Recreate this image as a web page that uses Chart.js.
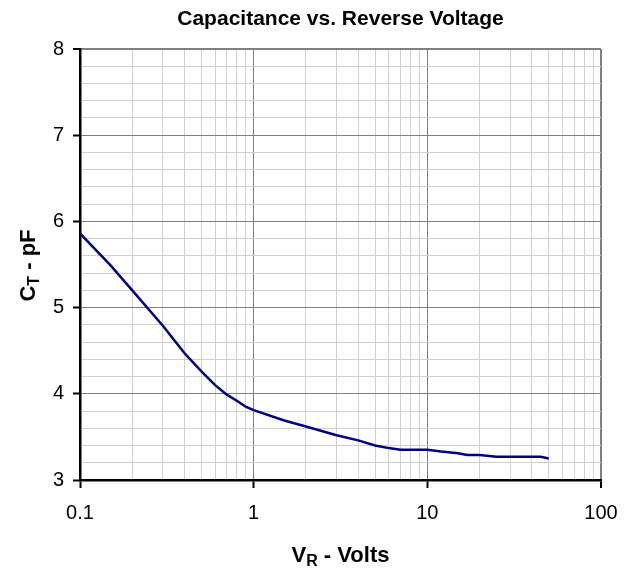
<!DOCTYPE html>
<html>
<head>
<meta charset="utf-8">
<script src="https://cdn.jsdelivr.net/npm/chart.js@4"></script>
<style>
  html, body { margin: 0; padding: 0; background: #fff; }
  #wrap { width: 633px; height: 570px; }
</style>
</head>
<body>
<div id="wrap"><canvas id="capChart"></canvas></div>
<script>
const chartTitle = 'Capacitance vs. Reverse Voltage';

// reverse voltage (V) and total capacitance (pF)
const vr = [0.1, 0.15, 0.2, 0.3, 0.4, 0.5, 0.6, 0.7, 0.8, 0.9, 1, 1.5, 2, 3, 4, 5, 6, 7, 8, 10, 12, 15, 17, 20, 25, 30, 40, 45, 50];
const ct = [5.86, 5.49, 5.20, 4.79, 4.47, 4.26, 4.10, 3.99, 3.92, 3.85, 3.81, 3.69, 3.62, 3.52, 3.46, 3.40, 3.37, 3.35, 3.35, 3.35, 3.33, 3.31, 3.29, 3.29, 3.27, 3.27, 3.27, 3.27, 3.25];

const xTicks = [0.1, 1, 10, 100];
const yTicks = [3, 4, 5, 6, 7, 8];

const FONT = '"Liberation Sans", Arial, Helvetica, sans-serif';

(function () {
  const canvas = document.getElementById('capChart');

  // log grid: 1..9 in every decade
  const xGrid = [];
  for (let d = 0; d < xTicks.length - 1; d++) {
    for (let k = 1; k < 10; k++) xGrid.push(+(xTicks[d] * k).toPrecision(3));
  }
  xGrid.push(xTicks[xTicks.length - 1]);

  const isMajorX = v => xTicks.some(t => Math.abs(t - v) < 1e-9);
  const isMajorY = v => yTicks.some(t => Math.abs(t - v) < 1e-6);

  function drawSub(ctx, main, sub, rest, cx, y) {
    const big = 'bold 22px ' + FONT, small = 'bold 16px ' + FONT;
    ctx.font = big;
    const w1 = ctx.measureText(main).width, w3 = ctx.measureText(rest).width;
    ctx.font = small;
    const w2 = ctx.measureText(sub).width;
    let x = cx - (w1 + w2 + w3) / 2;
    ctx.textAlign = 'left';
    ctx.font = big; ctx.fillText(main, x, y); x += w1;
    ctx.font = small; ctx.fillText(sub, x, y + 4); x += w2;
    ctx.font = big; ctx.fillText(rest, x, y);
  }

  const titles = {
    id: 'titles',
    afterDraw(chart) {
      const { ctx, chartArea: a } = chart;
      const cx = (a.left + a.right) / 2;
      ctx.save();
      ctx.fillStyle = '#000';
      ctx.textBaseline = 'alphabetic';
      ctx.textAlign = 'center';
      ctx.font = 'bold 21px ' + FONT;
      ctx.fillText(chartTitle, cx, 25);
      drawSub(ctx, 'V', 'R', ' - Volts', cx, 562);
      ctx.translate(35, (a.top + a.bottom) / 2 + 1);
      ctx.rotate(-Math.PI / 2);
      drawSub(ctx, 'C', 'T', ' - pF', 0, 0);
      ctx.restore();
    }
  };

  new Chart(canvas.getContext('2d'), {
    type: 'line',
    data: {
      datasets: [{
        data: vr.map((v, i) => ({ x: v, y: ct[i] })),
        borderColor: '#000080',
        borderWidth: 2.5,
        pointRadius: 0,
        tension: 0,
        fill: false
      }]
    },
    options: {
      responsive: true,
      maintainAspectRatio: false,
      animation: false,
      layout: { padding: { top: 49, right: 32, left: 0, bottom: 0 } },
      plugins: { legend: { display: false }, tooltip: { enabled: false } },
      scales: {
        x: {
          type: 'logarithmic',
          min: 0.1,
          max: 100,
          afterBuildTicks: s => { s.ticks = xGrid.map(v => ({ value: v })); },
          afterFit: s => { s.height = 90; },
          border: { color: '#000', width: 2.5 },
          grid: {
            color: c => isMajorX(c.tick.value) ? '#808080' : '#cfcfcf',
            lineWidth: c => c.tick.value === 100 ? 2 : 1,
            tickColor: c => isMajorX(c.tick.value) ? '#000' : 'rgba(0,0,0,0)',
            tickWidth: 2,
            tickLength: 8
          },
          ticks: {
            autoSkip: false,
            maxRotation: 0,
            padding: 13,
            color: '#000',
            font: { family: FONT, size: 20 },
            callback: v => isMajorX(v) ? String(v) : ''
          }
        },
        y: {
          min: 3,
          max: 8,
          afterFit: s => { s.width = 80; },
          border: { color: '#000', width: 2.5 },
          grid: {
            color: c => isMajorY(c.tick.value) ? '#808080' : '#cfcfcf',
            lineWidth: c => c.tick.value === 8 ? 2 : 1,
            tickColor: c => isMajorY(c.tick.value) ? '#000' : 'rgba(0,0,0,0)',
            tickWidth: 2,
            tickLength: 7
          },
          ticks: {
            stepSize: 0.2,
            autoSkip: false,
            padding: 9,
            color: '#000',
            font: { family: FONT, size: 20 },
            callback: v => isMajorY(v) ? String(Math.round(v)) : ''
          }
        }
      }
    },
    plugins: [titles]
  });
})();
</script>
</body>
</html>
